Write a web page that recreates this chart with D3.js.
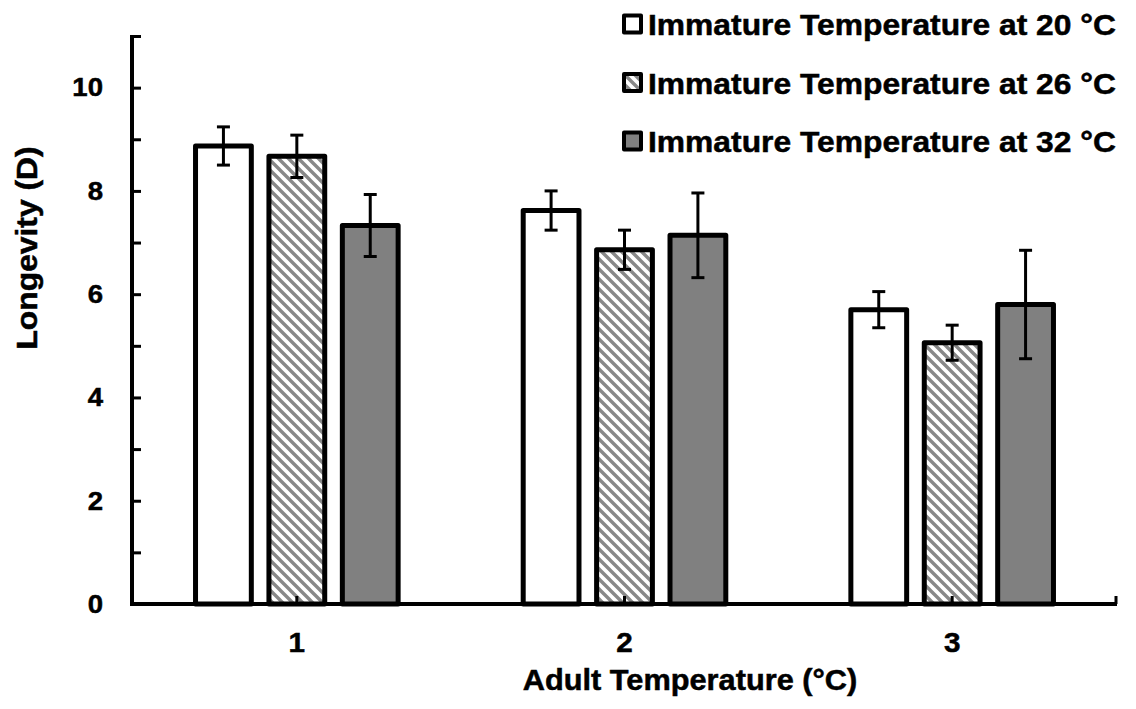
<!DOCTYPE html>
<html>
<head>
<meta charset="utf-8">
<script src="https://cdn.jsdelivr.net/npm/d3@7"></script>
<style>
  body { margin: 0; background: #fff; }
  text { font-family: "Liberation Sans", Arial, sans-serif; font-weight: bold; fill: #000;
         stroke: #000; stroke-width: 0.5px; }
</style>
</head>
<body>
<svg id="chart" width="1136" height="709"></svg>
<script>
// Longevity (days) by adult temperature, grouped by immature rearing temperature
const adultTemps = ["1", "2", "3"];
const seriesNames = [
  "Immature Temperature at 20 °C",
  "Immature Temperature at 26 °C",
  "Immature Temperature at 32 °C"
];
const means20 = [8.87, 7.62, 5.70];
const errs20  = [0.37, 0.38, 0.35];
const means26 = [8.67, 6.86, 5.06];
const errs26  = [0.41, 0.38, 0.34];
const means32 = [7.33, 7.14, 5.80];
const errs32  = [0.60, 0.82, 1.05];
const yTickLabels = [0, 2, 4, 6, 8, 10];
const yTickMarks = [0, 1, 2, 3, 4, 5, 6, 7, 8, 9, 10, 11];

const seriesMeans = [means20, means26, means32];
const seriesErrs = [errs20, errs26, errs32];
const fills = ["#ffffff", "url(#hatch)", "#808080"];
const SX = 1.06; // horizontal stretch of the bold lettering

const svg = d3.select("#chart");

// diagonal hatch (down-right stripes) for the 26 °C series
const defs = svg.append("defs");
const pat = defs.append("pattern")
  .attr("id", "hatch")
  .attr("patternUnits", "userSpaceOnUse")
  .attr("width", 10).attr("height", 10);
pat.append("rect").attr("width", 10).attr("height", 10).attr("fill", "#fff");
pat.append("path")
  .attr("d", "M-5,-5L15,15M5,-5L15,5M-5,5L5,15")
  .attr("stroke", "#888").attr("stroke-width", 3.4);

const x0 = d3.scaleBand().domain(adultTemps).range([133, 1116]);
const x1 = d3.scaleBand().domain([0, 1, 2]).range([-101.3, 101.3]).paddingInner(0.24);
const y = d3.scaleLinear().domain([0, 11]).range([604, 36]);

// bars
const rows = [];
adultTemps.forEach((c, ci) => {
  seriesMeans.forEach((m, si) => {
    rows.push({ cat: c, s: si, v: m[ci], e: seriesErrs[si][ci] });
  });
});
const barX = d => x0(d.cat) + x0.bandwidth() / 2 + x1(d.s);

svg.append("g").selectAll("rect")
  .data(rows).join("rect")
  .attr("x", d => barX(d))
  .attr("y", d => y(d.v))
  .attr("width", x1.bandwidth())
  .attr("height", d => y(0) - y(d.v))
  .attr("fill", d => fills[d.s])
  .attr("stroke", "#000")
  .attr("stroke-width", 5)
  .attr("stroke-linejoin", "round");

// y axis: tick marks on the inside, labels on the left
const yAxisMarks = svg.append("g").attr("transform", "translate(132,0)")
  .call(d3.axisRight(y).tickValues(yTickMarks).tickSize(9).tickSizeOuter(0).tickFormat(""));
yAxisMarks.select(".domain").attr("stroke-width", 4).attr("d", `M0,${y(11) - 1}V${y(0) + 2}`);
yAxisMarks.selectAll(".tick line").attr("stroke-width", 3);

const yAxisLabels = svg.append("g").attr("transform", "translate(132,0)")
  .call(d3.axisLeft(y).tickValues(yTickLabels).tickSize(0).tickPadding(29).tickFormat(d3.format("d")));
yAxisLabels.select(".domain").remove();
yAxisLabels.selectAll("text")
  .style("font-size", "26px")
  .attr("x", -29 / SX)
  .attr("transform", `scale(${SX},1)`);

// x axis
const xAxisMarks = svg.append("g").attr("transform", "translate(0,604)")
  .call(d3.axisTop(x0).tickSize(8).tickSizeOuter(0).tickFormat(""));
xAxisMarks.select(".domain").attr("stroke-width", 4).attr("d", `M${x0.range()[0] - 2},0H${x0.range()[1] + 1}`);
xAxisMarks.selectAll(".tick line").attr("stroke-width", 3);
xAxisMarks.append("line")
  .attr("x1", x0.range()[1]).attr("x2", x0.range()[1])
  .attr("y1", 0).attr("y2", -8)
  .attr("stroke", "#000").attr("stroke-width", 3);

const xAxisLabels = svg.append("g").attr("transform", "translate(0,604)")
  .call(d3.axisBottom(x0).tickSize(0).tickPadding(28));
xAxisLabels.select(".domain").remove();
xAxisLabels.selectAll("text")
  .style("font-size", "28px")
  .attr("transform", `scale(${SX},1)`);

// error bars
const eb = svg.append("g").attr("stroke", "#000").attr("stroke-width", 3);
rows.forEach(d => {
  const cx = barX(d) + x1.bandwidth() / 2;
  eb.append("line").attr("x1", cx).attr("x2", cx).attr("y1", y(d.v + d.e)).attr("y2", y(d.v - d.e));
  eb.append("line").attr("x1", cx - 6.5).attr("x2", cx + 6.5).attr("y1", y(d.v + d.e)).attr("y2", y(d.v + d.e));
  eb.append("line").attr("x1", cx - 6.5).attr("x2", cx + 6.5).attr("y1", y(d.v - d.e)).attr("y2", y(d.v - d.e));
});

// axis titles
svg.append("text")
  .attr("transform", `translate(37,248) rotate(-90) scale(${SX},1)`)
  .attr("text-anchor", "middle")
  .style("font-size", "30px")
  .text("Longevity (D)");

svg.append("text")
  .attr("transform", `translate(690,690) scale(${SX},1)`)
  .attr("text-anchor", "middle")
  .style("font-size", "29px")
  .text("Adult Temperature (°C)");

// legend
const legend = svg.append("g");
const legendY = d3.scalePoint().domain(seriesNames).range([24, 141]);
seriesNames.forEach((name, i) => {
  const cy = legendY(name);
  legend.append("rect")
    .attr("x", 624).attr("y", cy - 8.5)
    .attr("width", 17).attr("height", 17)
    .attr("fill", fills[i])
    .attr("stroke", "#000").attr("stroke-width", 4)
    .attr("stroke-linejoin", "round");
  legend.append("text")
    .attr("transform", `translate(648,${cy + 11}) scale(${SX},1)`)
    .style("font-size", "30px")
    .text(name);
});
</script>
</body>
</html>
